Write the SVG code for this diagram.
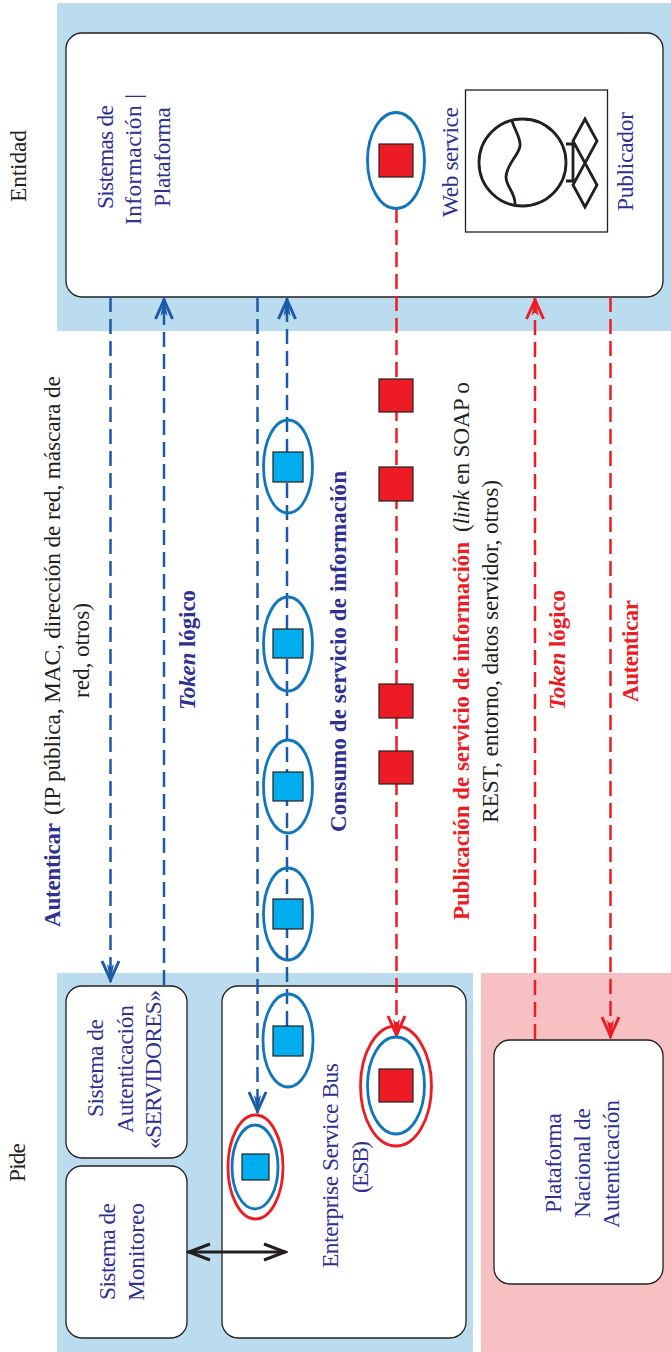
<svg xmlns="http://www.w3.org/2000/svg" width="671" height="1352" viewBox="0 0 671 1352">
<style>
text{font-family:"Liberation Serif","Times New Roman",serif;font-size:23.5px}
.i{fill:#2e3192}.k{fill:#231f20}.r{fill:#ed1c24}.b{font-weight:bold;font-size:23px}.t{font-style:italic}
.box{fill:#fff;stroke:#231f20;stroke-width:1.3}
.pb{fill:#bbdcee}.pr{fill:#f7c0c2}
.lb,.lr,.lk{fill:none;stroke-width:2.5}
.lb{stroke:#1c5aa8;stroke-dasharray:15 7}
.lr{stroke:#ed1c24;stroke-dasharray:15 7}
.lk{stroke:#231f20;stroke-width:2.8}
.e{fill:none;stroke:#0f75bc;stroke-width:2.8}
.o{fill:none;stroke:#ed1c24;stroke-width:2.8}
.sb{fill:#00aeef;stroke:#231f20;stroke-width:1.2}
.sr{fill:#ed1c24;stroke:#231f20;stroke-width:1.2}
.ic{fill:none;stroke:#231f20;stroke-width:2.8}
</style>
<defs>
<marker id="ab" markerUnits="userSpaceOnUse" markerWidth="24" markerHeight="24" refX="23" refY="12" orient="auto" viewBox="0 0 24 24"><path d="M2 3.5L21 12L2 20.5" fill="none" stroke="#1c5aa8" stroke-width="3"/><path d="M5 8.5L23 12L5 15.5L9 12Z" fill="#1c5aa8"/></marker>
<marker id="ar" markerUnits="userSpaceOnUse" markerWidth="24" markerHeight="24" refX="23" refY="12" orient="auto" viewBox="0 0 24 24"><path d="M2 3.5L21 12L2 20.5" fill="none" stroke="#ed1c24" stroke-width="3"/><path d="M5 8.5L23 12L5 15.5L9 12Z" fill="#ed1c24"/></marker>
<marker id="ak" markerUnits="userSpaceOnUse" markerWidth="26" markerHeight="24" refX="24" refY="12" orient="auto-start-reverse" viewBox="0 0 26 24"><path d="M2 4L23 12L2 20" fill="none" stroke="#231f20" stroke-width="3"/></marker>
</defs>

<g id="panels">
<rect class="pb" x="57" y="3" width="614" height="328"/>
<rect class="pb" x="57" y="973" width="416" height="379"/>
<rect class="pr" x="481" y="973" width="190" height="379"/>
</g>

<g id="entidad">
<rect class="box" x="66" y="33" width="597" height="264" rx="16"/>
<text class="k" transform="translate(26,202) rotate(-90)" textLength="72">Entidad</text>
<text class="i" transform="translate(113,209) rotate(-90)" textLength="104">Sistemas de</text>
<text class="i" transform="translate(141,225) rotate(-90)" textLength="131">Información |</text>
<text class="i" transform="translate(170,207) rotate(-90)" textLength="100">Plataforma</text>
</g>

<g id="publicador">
<rect x="465.5" y="90" width="142" height="142" fill="#fff" stroke="#231f20" stroke-width="1.3"/>
<circle class="ic" cx="522.5" cy="162.5" r="43.5"/>
<path class="ic" d="M512 121C515 131 521 138 520 146C519 155 506 165 506 177C506 187 516 193 515 205"/>
<path class="ic" d="M566 144H573V181H566M573 141L585 119L597 141L585 163L597 185L585 207L573 185L585 163L573 141Z"/>
<text class="i" transform="translate(458,217) rotate(-90)" textLength="110">Web service</text>
<text class="i" transform="translate(633,211) rotate(-90)" textLength="99">Publicador</text>
</g>

<g id="pide">
<text class="k" transform="translate(25,1182) rotate(-90)" textLength="39">Pide</text>
</g>

<g id="autenticacion">
<rect class="box" x="66" y="986" width="121" height="172" rx="16"/>
<text class="i" transform="translate(103,1117) rotate(-90)" textLength="98">Sistema de</text>
<text class="i" transform="translate(133,1133) rotate(-90)" textLength="128">Autenticación</text>
<text class="i" transform="translate(161,1149) rotate(-90)" textLength="159">«SERVIDORES»</text>
</g>

<g id="monitoreo">
<rect class="box" x="66" y="1166" width="121" height="172" rx="16"/>
<text class="i" transform="translate(115,1300) rotate(-90)" textLength="97">Sistema de</text>
<text class="i" transform="translate(144,1301) rotate(-90)" textLength="98">Monitoreo</text>
</g>

<g id="esb">
<rect class="box" x="222" y="986" width="244" height="352" rx="16"/>
<text class="i" transform="translate(338,1268) rotate(-90)" textLength="205">Enterprise Service Bus</text>
<text class="i" transform="translate(368,1193) rotate(-90)" textLength="52">(ESB)</text>
</g>

<g id="plataforma-nacional">
<rect class="box" x="494" y="1040" width="169" height="244" rx="16"/>
<text class="i" transform="translate(561,1213) rotate(-90)" textLength="100">Plataforma</text>
<text class="i" transform="translate(590,1218) rotate(-90)" textLength="110">Nacional de</text>
<text class="i" transform="translate(619,1228) rotate(-90)" textLength="128">Autenticación</text>
</g>

<g id="connectors">
<line class="lb" x1="110.5" y1="297" x2="110.5" y2="982" marker-end="url(#ab)"/>
<line class="lb" x1="164" y1="985" x2="164" y2="298" marker-end="url(#ab)"/>
<line class="lb" x1="257.5" y1="297" x2="257.5" y2="1113" marker-end="url(#ab)"/>
<line class="lb" x1="287" y1="1026" x2="287" y2="298" marker-end="url(#ab)"/>
<line class="lr" x1="396.5" y1="208" x2="396.5" y2="1037" marker-end="url(#ar)"/>
<line class="lr" x1="535" y1="1039" x2="535" y2="298" marker-end="url(#ar)"/>
<line class="lr" x1="610.5" y1="297" x2="610.5" y2="1038" marker-end="url(#ar)"/>
<line class="lk" x1="188" y1="1252" x2="286" y2="1252" marker-start="url(#ak)" marker-end="url(#ak)"/>
</g>

<g id="mensajes">
<ellipse class="e" cx="288" cy="466.5" rx="24.5" ry="46.5"/><rect class="sb" x="273" y="452" width="30" height="30"/>
<ellipse class="e" cx="288" cy="644" rx="24.5" ry="47"/><rect class="sb" x="273" y="629" width="30" height="29"/>
<ellipse class="e" cx="288" cy="786.5" rx="24.5" ry="46.5"/><rect class="sb" x="273" y="772" width="30" height="29"/>
<ellipse class="e" cx="288" cy="914" rx="24.5" ry="46"/><rect class="sb" x="273" y="899" width="30" height="30"/>
<ellipse class="e" cx="288" cy="1040.5" rx="25" ry="46.5"/><rect class="sb" x="273" y="1026" width="30" height="30"/>
<ellipse class="o" cx="255.5" cy="1167" rx="27.5" ry="52"/><ellipse class="e" cx="255" cy="1167" rx="23" ry="42"/><rect class="sb" x="242" y="1154" width="27" height="26"/>
<ellipse class="o" cx="396" cy="1086" rx="35.5" ry="60"/><ellipse class="e" cx="396" cy="1085.5" rx="28.5" ry="48.5"/><rect class="sr" x="379" y="1069" width="34" height="33"/>
<ellipse class="e" cx="396" cy="160.5" rx="28.5" ry="48"/><rect class="sr" x="379" y="144" width="34" height="33"/>
<rect class="sr" x="379" y="379" width="34" height="33"/>
<rect class="sr" x="379" y="467" width="34" height="34"/>
<rect class="sr" x="379" y="684" width="34" height="34"/>
<rect class="sr" x="379" y="751" width="34" height="33"/>
</g>

<g id="etiquetas">
<text transform="translate(60,927) rotate(-90)"><tspan class="i b" x="0" textLength="104">Autenticar</tspan><tspan class="k" x="112" textLength="439">(IP pública, MAC, dirección de red, máscara de</tspan></text>
<text class="k" transform="translate(89,698) rotate(-90)" textLength="95">red, otros)</text>
<text class="i b" transform="translate(195,710) rotate(-90)" textLength="120"><tspan class="t">Token</tspan> lógico</text>
<text class="i b" transform="translate(346,832) rotate(-90)" textLength="361">Consumo de servicio de información</text>
<text transform="translate(469,920) rotate(-90)"><tspan class="r b" x="0" textLength="378">Publicación de servicio de información</tspan><tspan class="k" x="388" textLength="150">(<tspan class="t">link</tspan> en SOAP o</tspan></text>
<text class="k" transform="translate(498,823) rotate(-90)" textLength="343">REST, entorno, datos servidor, otros)</text>
<text class="r b" transform="translate(565,710) rotate(-90)" textLength="120"><tspan class="t">Token</tspan> lógico</text>
<text class="r b" transform="translate(638,702) rotate(-90)" textLength="102">Autenticar</text>
</g>
</svg>
